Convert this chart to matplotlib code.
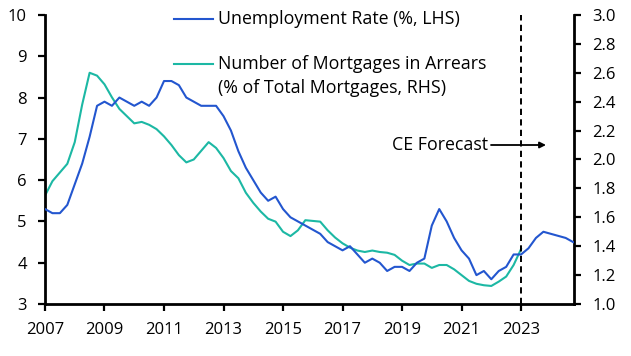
import matplotlib
matplotlib.use("Agg")
import matplotlib.pyplot as plt
from matplotlib.lines import Line2D
import numpy as np

plt.rcParams['font.family'] = ['Open Sans', 'DejaVu Sans']

# Quarterly data, 2007Q1 onward
start_year = 2007
unemployment = [5.3, 5.2, 5.2, 5.4, 5.9, 6.4, 7.05, 7.8, 7.9, 7.8, 8.0, 7.9,
                7.8, 7.9, 7.8, 8.0, 8.4, 8.4, 8.3, 8.0, 7.9, 7.8, 7.8, 7.8,
                7.55, 7.2, 6.7, 6.3, 6.0, 5.7, 5.5, 5.6, 5.3, 5.1, 5.0, 4.9,
                4.8, 4.7, 4.5, 4.4, 4.3, 4.4, 4.2, 4.0, 4.1, 4.0, 3.8, 3.9,
                3.9, 3.8, 4.0, 4.1, 4.9, 5.3, 5.0, 4.6, 4.3, 4.1, 3.7, 3.8,
                3.6, 3.8, 3.9, 4.2, 4.2, 4.35, 4.6, 4.75, 4.7, 4.65, 4.6, 4.5]
arrears = [1.75, 1.85, 1.91, 1.97, 2.12, 2.38, 2.60, 2.58, 2.52, 2.43, 2.35, 2.30,
           2.25, 2.26, 2.24, 2.21, 2.16, 2.10, 2.03, 1.98, 2.00, 2.06, 2.12, 2.08,
           2.01, 1.92, 1.87, 1.77, 1.70, 1.64, 1.59, 1.57, 1.50, 1.47, 1.51, 1.58,
           1.575, 1.57, 1.51, 1.46, 1.42, 1.39, 1.37, 1.36, 1.37, 1.36, 1.355, 1.34,
           1.30, 1.27, 1.28, 1.28, 1.25, 1.27, 1.27, 1.24, 1.20, 1.16, 1.14, 1.13,
           1.125, 1.155, 1.19, 1.27, 1.38]
forecast_year = 2023
x_ticks = [2007, 2009, 2011, 2013, 2015, 2017, 2019, 2021, 2023]
left_ticks = [3, 4, 5, 6, 7, 8, 9, 10]
right_ticks = [1.0, 1.2, 1.4, 1.6, 1.8, 2.0, 2.2, 2.4, 2.6, 2.8, 3.0]

t_u = start_year + 0.25 * np.arange(len(unemployment))
t_a = start_year + 0.25 * np.arange(len(arrears))

BLUE = "#2356cf"
TEAL = "#1cb8a4"
FS = 12
TFS = 12.8

fig = plt.figure(figsize=(6.31, 3.56), dpi=100)
ax = fig.add_axes([0.0713, 0.146, 0.8384, 0.812])
ax2 = ax.twinx()

ax.plot(t_u, unemployment, color=BLUE, lw=1.5, zorder=3)
ax2.plot(t_a, arrears, color=TEAL, lw=1.5, zorder=2)
ax.set_zorder(ax2.get_zorder() + 1)
ax.patch.set_visible(False)

ax.axvline(forecast_year, color="black", lw=1.4, ls=(0, (3.2, 2.2)), zorder=1)

ax.set_xlim(2007, 2024.78)
ax.set_ylim(3, 10)
ax2.set_ylim(1.0, 3.0)
ax.set_xticks(x_ticks)
ax.set_xticklabels([str(v) for v in x_ticks])
ax.set_yticks(left_ticks)
ax2.set_yticks(right_ticks)
ax2.set_yticklabels([f"{v:.1f}" for v in right_ticks])

for a in (ax, ax2):
    a.spines['top'].set_visible(False)
    for s in ('left', 'right', 'bottom'):
        a.spines[s].set_linewidth(2.0)
        a.spines[s].set_color('black')
    a.tick_params(axis='both', which='both', direction='out', length=5,
                  width=1.6, pad=8, labelsize=FS, colors='black')
ax.spines['right'].set_visible(False)
ax2.spines['left'].set_visible(False)
ax2.spines['bottom'].set_visible(False)

# Legend drawn manually (handle aligned to first text line)
def fx(px):
    return px / 631.0
def fy(py):
    return 1 - py / 356.0

fig.add_artist(Line2D([fx(174), fx(213)], [fy(19), fy(19)], color=BLUE, lw=1.5))
fig.text(fx(218), fy(19), "Unemployment Rate (%, LHS)", fontsize=TFS,
         va="center", ha="left")
fig.add_artist(Line2D([fx(174), fx(213)], [fy(64), fy(64)], color=TEAL, lw=1.5))
fig.text(fx(218), fy(64), "Number of Mortgages in Arrears", fontsize=TFS,
         va="center", ha="left")
fig.text(fx(218), fy(88), "(% of Total Mortgages, RHS)", fontsize=TFS,
         va="center", ha="left")

fig.text(fx(488), fy(145), "CE Forecast", fontsize=TFS, va="center", ha="right")
ax.annotate("", xy=(fx(546), fy(145)), xytext=(fx(491), fy(145)),
            xycoords="figure fraction", textcoords="figure fraction",
            arrowprops=dict(arrowstyle="-|>", color="black", lw=1.3,
                            mutation_scale=9, shrinkA=0, shrinkB=0))

fig.savefig("out.png", dpi=100)
